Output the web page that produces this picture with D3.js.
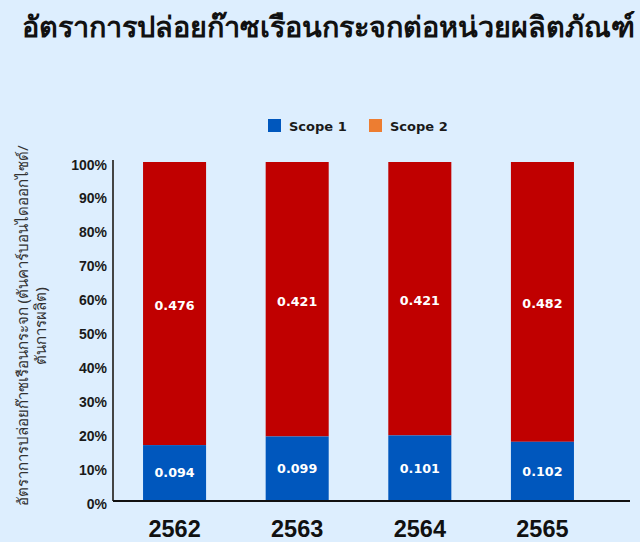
<!DOCTYPE html>
<html>
<head>
<meta charset="utf-8">
<script src="https://cdn.jsdelivr.net/npm/d3@7"></script>
<style>
  body { margin: 0; background: #ddeefe; }
  svg { display: block; font-family: "DejaVu Sans", "Noto Sans", sans-serif; }
</style>
</head>
<body>
<div id="chart"></div>
<script>
// chart data
const years = ["2562", "2563", "2564", "2565"];
const scope1 = [0.094, 0.099, 0.101, 0.102];
const scope2 = [0.476, 0.421, 0.421, 0.482];
const seriesNames = ["Scope 1", "Scope 2"];
const yTicks = [0, 0.1, 0.2, 0.3, 0.4, 0.5, 0.6, 0.7, 0.8, 0.9, 1];

const width = 640;
const height = 542;
const margin = { top: 162, right: 10, bottom: 41, left: 113 };

const svg = d3.select("#chart")
  .append("svg")
  .attr("width", width)
  .attr("height", height);

svg.append("rect")
  .attr("width", width)
  .attr("height", height)
  .attr("fill", "#ddeefe");

// title
svg.append("text")
  .attr("x", 22)
  .attr("y", 37)
  .attr("font-family", '"Noto Sans", "DejaVu Sans", sans-serif')
  .attr("font-size", 28.8)
  .attr("font-weight", "bold")
  .attr("fill", "#111")
  .text("อัตราการปล่อยก๊าซเรือนกระจกต่อหน่วยผลิตภัณฑ์");

// scales
const x = d3.scaleBand()
  .domain(years)
  .range([margin.left, 604])
  .paddingInner(0.486)
  .paddingOuter(0.245);

const y = d3.scaleLinear()
  .domain([0, 1])
  .range([height - margin.bottom, margin.top]);

const color = d3.scaleOrdinal()
  .domain(seriesNames)
  .range(["#0057bd", "#ed7d31"]);

// stacked shares
const rows = years.map((yr, i) => {
  const total = scope1[i] + scope2[i];
  return { year: yr, s1: scope1[i], s2: scope2[i], p1: scope1[i] / total, total };
});

const g = svg.append("g");

// scope 2 (top part)
g.selectAll(".bar2")
  .data(rows)
  .enter()
  .append("rect")
  .attr("x", d => x(d.year))
  .attr("width", x.bandwidth())
  .attr("y", y(1))
  .attr("height", d => y(d.p1) - y(1))
  .attr("fill", "#c00000");

// scope 1 (bottom part)
g.selectAll(".bar1")
  .data(rows)
  .enter()
  .append("rect")
  .attr("x", d => x(d.year))
  .attr("width", x.bandwidth())
  .attr("y", d => y(d.p1))
  .attr("height", d => y(0) - y(d.p1))
  .attr("fill", color("Scope 1"));

// value labels
g.selectAll(".lab2")
  .data(rows)
  .enter()
  .append("text")
  .attr("x", d => x(d.year) + x.bandwidth() / 2)
  .attr("y", d => (y(1) + y(d.p1)) / 2 + 2)
  .attr("dy", "0.35em")
  .attr("text-anchor", "middle")
  .attr("fill", "#fff")
  .attr("font-size", 12.7)
  .attr("font-weight", "bold")
  .text(d => d3.format(".3f")(d.s2));

g.selectAll(".lab1")
  .data(rows)
  .enter()
  .append("text")
  .attr("x", d => x(d.year) + x.bandwidth() / 2)
  .attr("y", d => (y(0) + y(d.p1)) / 2)
  .attr("dy", "0.35em")
  .attr("text-anchor", "middle")
  .attr("fill", "#fff")
  .attr("font-size", 12.7)
  .attr("font-weight", "bold")
  .text(d => d3.format(".3f")(d.s1));

// y axis
const yAxis = svg.append("g")
  .attr("transform", `translate(${margin.left},0)`)
  .call(d3.axisLeft(y).tickValues(yTicks).tickFormat(d3.format(".0%")).tickSize(0).tickPadding(6));
yAxis.select(".domain").remove();
yAxis.selectAll("text")
  .attr("font-size", 14)
  .attr("font-weight", "bold")
  .attr("fill", "#1a1a1a")
  .attr("dy", "0.5em");

svg.append("line")
  .attr("x1", margin.left).attr("x2", margin.left)
  .attr("y1", margin.top - 2).attr("y2", y(0))
  .attr("stroke", "#444")
  .attr("stroke-width", 2);

// x axis
const xAxis = svg.append("g")
  .attr("transform", `translate(0,${y(0)})`)
  .call(d3.axisBottom(x).tickSize(0).tickPadding(0));
xAxis.select(".domain").remove();
xAxis.selectAll("text")
  .attr("font-family", '"Liberation Sans", Arial, sans-serif')
  .attr("font-size", 23.5)
  .attr("font-weight", "bold")
  .attr("fill", "#111")
  .attr("y", 36)
  .attr("dy", 0);

svg.append("line")
  .attr("x1", margin.left).attr("x2", 630)
  .attr("y1", y(0)).attr("y2", y(0))
  .attr("stroke", "#111")
  .attr("stroke-width", 2);

// y axis title
const yTitle = svg.append("text")
  .attr("transform", "translate(28,326) rotate(-90)")
  .attr("text-anchor", "middle")
  .attr("font-family", '"Noto Sans", "DejaVu Sans", sans-serif')
  .attr("font-size", 15)
  .attr("fill", "#333");
yTitle.append("tspan")
  .attr("x", 0).attr("y", 0)
  .text("อัตราการปล่อยก๊าซเรือนกระจก (ตันคาร์บอนไดออกไซด์/");
yTitle.append("tspan")
  .attr("x", 0).attr("y", 18)
  .text("ตันการผลิต)");

// legend
const legend = svg.append("g")
  .attr("transform", "translate(268,119)");
const item = legend.selectAll("g")
  .data(seriesNames)
  .enter()
  .append("g")
  .attr("transform", (d, i) => `translate(${i * 101},0)`);
item.append("rect")
  .attr("width", 13)
  .attr("height", 13)
  .attr("fill", d => color(d));
item.append("text")
  .attr("x", 21)
  .attr("y", 7)
  .attr("dy", "0.35em")
  .attr("font-size", 13)
  .attr("font-weight", "bold")
  .attr("fill", "#1a1a1a")
  .text(d => d);
</script>
</body>
</html>
